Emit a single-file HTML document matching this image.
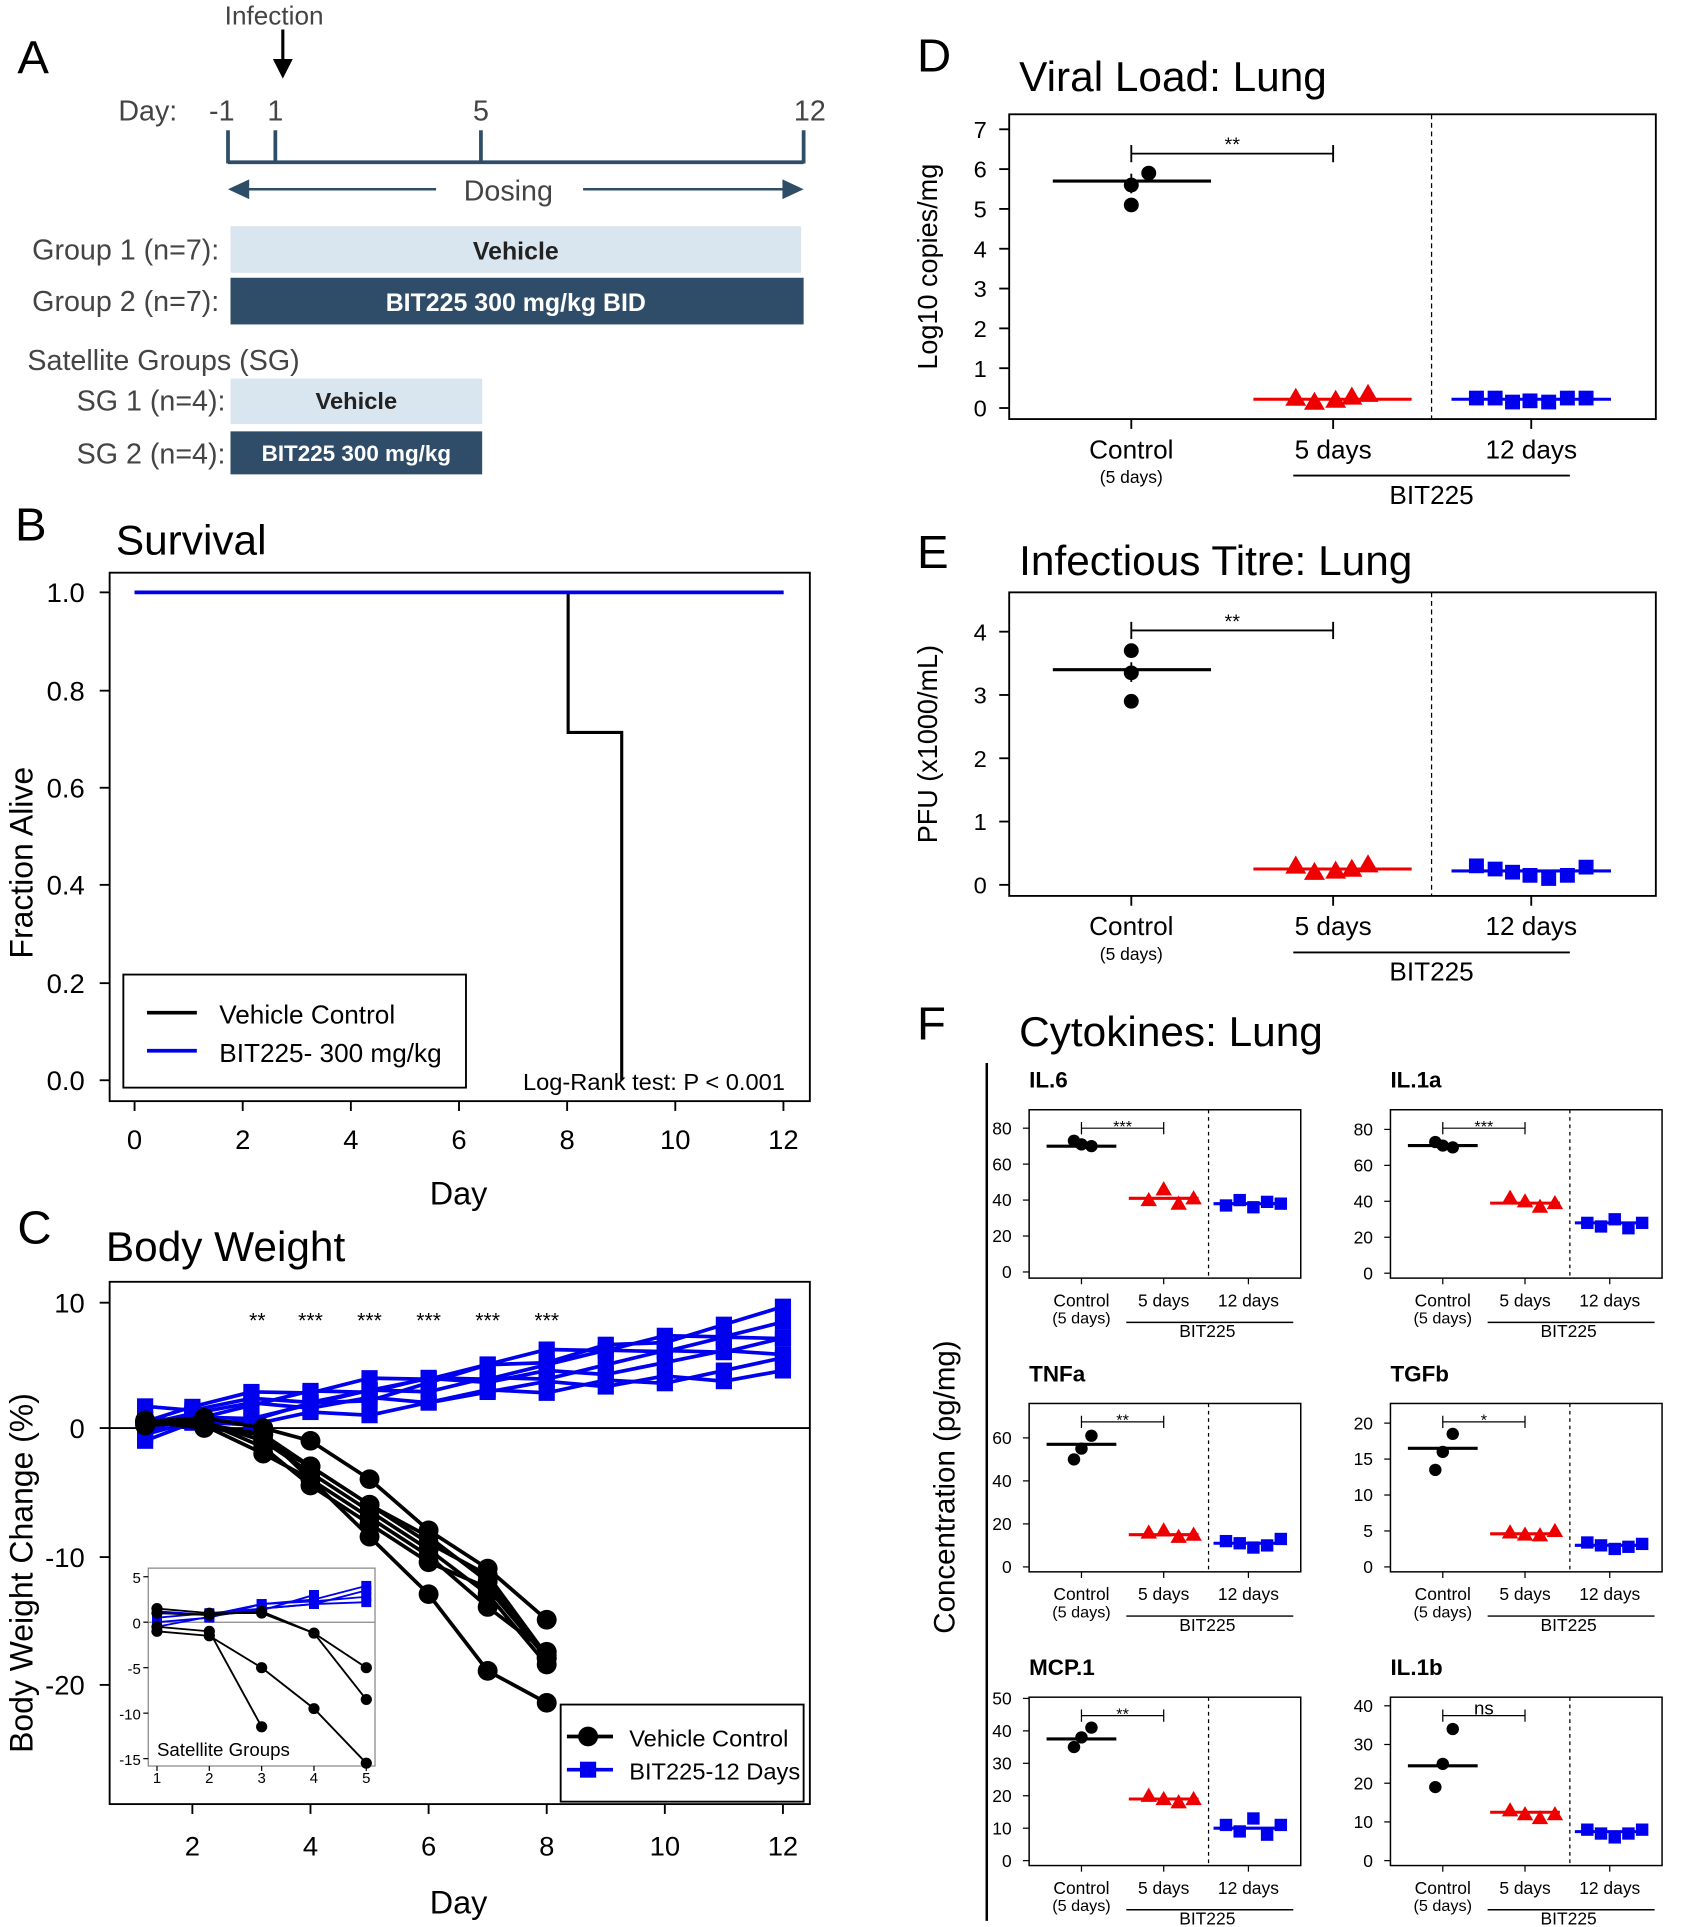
<!DOCTYPE html>
<html><head><meta charset="utf-8"><style>
html,body{margin:0;padding:0;background:#fff;}
svg{display:block;font-family:"Liberation Sans",Arial,sans-serif;}
</style></head><body>
<svg id="s" width="1682" height="1927" viewBox="0 0 1350 1568" preserveAspectRatio="none" xmlns="http://www.w3.org/2000/svg"></svg>
<script>
const S=document.getElementById('s');let h='';
function T(x,y,t,o={}){h+=`<text x="${x}" y="${y}" font-size="${o.s||20}" fill="${o.c||'#000'}" text-anchor="${o.a||'start'}" ${o.b?'font-weight="bold"':''} ${o.r?`transform="rotate(-90 ${x} ${y})"`:''}>${t}</text>`;}
function L(x1,y1,x2,y2,c='#000',w=1.5,d=''){h+=`<line x1="${x1}" y1="${y1}" x2="${x2}" y2="${y2}" stroke="${c}" stroke-width="${w}" ${d?`stroke-dasharray="${d}"`:''}/>`;}
function R(x,y,w,ht,f='none',st='#000',sw=1.5){h+=`<rect x="${x}" y="${y}" width="${w}" height="${ht}" fill="${f}" stroke="${st}" stroke-width="${sw}"/>`;}
function C(x,y,r,c='#000'){h+=`<circle cx="${x}" cy="${y}" r="${r}" fill="${c}"/>`;}
function Sq(x,y,s,c='#00e'){h+=`<rect x="${x-s/2}" y="${y-s/2}" width="${s}" height="${s}" fill="${c}"/>`;}
function Tr(x,y,s,c='#e00'){h+=`<polygon points="${x},${y-s*0.6} ${x-s*0.6},${y+s*0.45} ${x+s*0.6},${y+s*0.45}" fill="${c}"/>`;}
function P(pts,c,w){h+=`<polyline points="${pts.map(p=>p.join(',')).join(' ')}" fill="none" stroke="${c}" stroke-width="${w}"/>`;}
const dk='#2e4d66',gr='#444';
// Panel A
T(14,60,'A',{s:38});T(220,20,'Infection',{s:21,a:'middle',c:gr});
L(227,24,227,52,'#000',2.5);h+=`<polygon points="219,48 235,48 227,64" fill="#000"/>`;
T(95,98,'Day:',{s:23,c:gr});
[[178,'-1'],[221,'1'],[386,'5'],[650,'12']].forEach(a=>T(a[0],98,a[1],{s:23,a:'middle',c:gr}));
L(183,132,645,132,dk,3);[183,221,386,645].forEach(x=>L(x,106,x,133,dk,3));
L(195,154,350,154,dk,2);L(468,154,632,154,dk,2);
h+=`<polygon points="183,154 200,146 200,162" fill="${dk}"/><polygon points="645,154 628,146 628,162" fill="${dk}"/>`;
T(408,163,'Dosing',{s:23,a:'middle',c:gr});
T(176,211,'Group 1 (n=7):',{s:23,a:'end',c:gr});R(185,184,458,38,'#d9e6f0','none');T(414,211,'Vehicle',{s:20,a:'middle',b:1,c:'#222'});
T(176,253,'Group 2 (n=7):',{s:23,a:'end',c:gr});R(185,226,460,38,'#2f4d68','none');T(414,253,'BIT225 300 mg/kg BID',{s:20,a:'middle',b:1,c:'#fff'});
T(22,301,'Satellite  Groups (SG)',{s:23,c:gr});
T(181,334,'SG 1 (n=4):',{s:23,a:'end',c:gr});R(185,308,202,37,'#d9e6f0','none');T(286,333,'Vehicle',{s:19,a:'middle',b:1,c:'#222'});
T(181,377,'SG 2 (n=4):',{s:23,a:'end',c:gr});R(185,351,202,35,'#2f4d68','none');T(286,375,'BIT225 300 mg/kg',{s:18,a:'middle',b:1,c:'#fff'});
// Panel B
T(12,440,'B',{s:38});T(93,451,'Survival',{s:34});
R(88,466,562,430);
[[1.0,482],[0.8,562],[0.6,641],[0.4,720],[0.2,800],[0.0,879]].forEach(a=>{L(80,a[1],88,a[1]);T(68,a[1]+8,a[0].toFixed(1),{s:22,a:'end'});});
for(let d=0;d<=12;d+=2){const x=108+d*43.4;L(x,896,x,904);T(x,935,d,{s:22,a:'middle'});}
T(368,980,'Day',{s:26,a:'middle'});T(26,702,'Fraction Alive',{s:26,a:'middle',r:1});
P([[108,482],[456,482],[456,596],[499,596],[499,879]],'#000',2.5);
L(108,482,629,482,'#00e',3);
R(99,793,275,92);L(118,824,158,824,'#000',3);L(118,855,158,855,'#00e',3);
T(176,833,'Vehicle Control',{s:21});T(176,864,'BIT225- 300 mg/kg',{s:21});
T(630,887,'Log-Rank test: P &lt; 0.001',{s:19,a:'end'});
// Panel C
T(14,1012,'C',{s:38});T(85,1026,'Body Weight',{s:34});
R(88,1043,562,425);
[[10,1060],[0,1162],[-10,1267],[-20,1371]].forEach(a=>{L(80,a[1],88,a[1]);T(68,a[1]+8,a[0],{s:22,a:'end'});});
for(let d=2;d<=12;d+=2){const x=107+(d-1)*47.4;L(x,1468,x,1476);T(x,1510,d,{s:22,a:'middle'});}
T(368,1557,'Day',{s:26,a:'middle'});T(26,1280,'Body Weight Change (%)',{s:26,a:'middle',r:1});
L(88,1162,650,1162,'#000',1.5);
const cx=d=>107+(d-1)*47.4, cy=v=>1162-v*10.4;
[['**',3.1],['***',4],['***',5],['***',6],['***',7],['***',8]].forEach(a=>T(cx(a[1]),1080,a[0],{s:17,a:'middle'}));
const blk=[[0.5,0.8,0,-1,-4,-8,-11,-15],[0.5,0.3,-0.5,-3,-6,-8.5,-12,-18],[0.3,0.5,-1,-3.5,-6.5,-9.5,-13,-18.5],[0.5,0,-0.5,-4,-7,-10,-14,-17.5],[0.2,0.5,-1.5,-4.5,-7.5,-10.5,-12.5,-18],[0.4,0.2,-2,-4,-8.5,-13,-19,-21.5],[0.6,0.5,-1,-3,-6,-9,-11.5,-17.8]];
const fin=[9,8.3,7.5,6.8,6,5,4.5];
const days=[1,2,3,4,5,6,7,8,9,10,11,12];
const blu=fin.map((f,i)=>days.map(d=>{const s=[-1,1,0.5,0,1.2,-0.5,0.8][i];return s+(f-s)*(d-1)/11+((d*7+i*3)%5-2)*0.25;}));
blu.forEach(l=>P(l.map((v,j)=>[cx(days[j]+(j==0?0.2:0)),cy(v)]),'#00e',3));
blu.forEach(l=>l.forEach((v,j)=>Sq(cx(days[j]+(j==0?0.2:0)),cy(v),13)));
blk.forEach(l=>P(l.map((v,j)=>[cx(j+1+(j<3?0.2:0)),cy(v)]),'#000',3));
blk.forEach(l=>l.forEach((v,j)=>C(cx(j+1+(j<3?0.2:0)),cy(v),8)));
// inset
R(119,1276,182,161,'#fff','#888',1);
const ix=d=>126+(d-1)*42, iy=v=>1320-v*7.4;
[[5],[0],[-5],[-10],[-15]].forEach(a=>{L(115,iy(a[0]),119,iy(a[0]),'#000',1);T(113,iy(a[0])+5,a[0],{s:12,a:'end'});});
for(let d=1;d<=5;d++){L(ix(d),1437,ix(d),1441,'#000',1);T(ix(d),1451,d,{s:12,a:'middle'});}
L(119,1320,301,1320,'#888',1);
[[1.2,0.8,1.3,3],[1,0.8,2,2.5,4],[0.5,1,1.5,2,3.5],[0,0.5,2,2.3,2.8],[-0.5,0.6,1.5,2,2.2]].forEach(l=>{P(l.map((v,j)=>[ix(j+1),iy(v)]),'#00e',1.5);l.forEach((v,j)=>Sq(ix(j+1),iy(v),8));});
[[1.5,1,1,-1.2,-5],[1,0.8,1.2,-1.2,-8.5],[-1,-1.5,-5,-9.5,-15.5],[-0.5,-1,-11.5]].forEach(l=>{P(l.map((v,j)=>[ix(j+1),iy(v)]),'#000',1.5);l.forEach((v,j)=>C(ix(j+1),iy(v),4.5));});
T(126,1429,'Satellite Groups',{s:15});
R(450,1387,195,79);L(455,1413,492,1413,'#000',3);C(472,1413,8);L(455,1440,492,1440,'#00e',3);Sq(472,1440,13);
T(505,1421,'Vehicle Control',{s:19});T(505,1448,'BIT225-12 Days',{s:19});
// D & E
function big(top,bot,tick,y0,ppu,lab,vals,pts,bry){
  R(810,top,519,bot-top);L(1149,top,1149,bot,'#000',1,'4,3');
  tick.forEach(t=>{const y=y0-t*ppu;L(802,y,810,y);T(792,y+7,t,{s:19,a:'end'});});
  T(752,(top+bot)/2,lab,{s:22,a:'middle',r:1});
  [908,1070,1229].forEach(x=>L(x,bot,x,bot+8));
  T(908,bot+32,'Control',{s:21,a:'middle'});T(908,bot+52,'(5 days)',{s:14,a:'middle'});
  T(1070,bot+32,'5 days',{s:21,a:'middle'});T(1229,bot+32,'12 days',{s:21,a:'middle'});
  L(1038,bot+46,1260,bot+46);T(1149,bot+69,'BIT225',{s:21,a:'middle'});
  L(908,bry,1070,bry);L(908,bry-7,908,bry+7);L(1070,bry-7,1070,bry+7);T(989,bry-2,'**',{s:16,a:'middle'});
  const Y=v=>y0-v*ppu;
  L(908,Y(vals[0])-6,908,Y(vals[0])+10);L(845,Y(vals[0]),972,Y(vals[0]),'#000',2.5);
  pts[0].forEach(p=>C(p[0],Y(p[1]),6));
  L(1006,Y(vals[1]),1133,Y(vals[1]),'#e00',2.5);pts[1].forEach(p=>Tr(p[0],Y(p[1]),14));
  L(1165,Y(vals[2]),1293,Y(vals[2]),'#00e',2.5);pts[2].forEach(p=>Sq(p[0],Y(p[1]),12));
}
T(736,58,'D',{s:38});T(818,74,'Viral Load: Lung',{s:34});
big(93,341,[0,1,2,3,4,5,6,7],332,32.4,'Log10 copies/mg',[5.7,0.22,0.22],
 [[[908,5.1],[908,5.6],[922,5.9]],[[1040,0.25],[1055,0.15],[1072,0.2],[1085,0.28],[1098,0.35]],[[1185,0.25],[1200,0.25],[1214,0.15],[1228,0.18],[1243,0.15],[1258,0.25],[1273,0.25]]],125);
T(736,462,'E',{s:38});T(818,468,'Infectious Titre: Lung',{s:34});
big(482,729,[0,1,2,3,4],720,51.5,'PFU (x1000/mL)',[3.4,0.25,0.22],
 [[[908,3.7],[908,3.35],[908,2.9]],[[1040,0.3],[1055,0.2],[1072,0.22],[1085,0.25],[1098,0.32]],[[1185,0.3],[1200,0.25],[1214,0.2],[1228,0.15],[1243,0.1],[1258,0.15],[1273,0.28]]],513);
// F
T(736,846,'F',{s:38});T(818,851,'Cytokines: Lung',{s:34});
L(792,865,792,1563,'#000',2);T(766,1210,'Concentration (pg/mg)',{s:24,a:'middle',r:1});
function cyt(x0,top,bot,title,ticks,tmax,ymax,y0,vals,pts,sig){
  T(x0,top-18,title,{s:18,b:1});
  R(x0,top,218,bot-top,'none','#000',1.2);L(x0+144,top,x0+144,bot,'#000',1,'3,3');
  const Y=v=>y0-(y0-ymax)*v/tmax;
  ticks.forEach(t=>{L(x0-5,Y(t),x0,Y(t),'#000',1);T(x0-14,Y(t)+5,t,{s:14,a:'end'});});
  [42,108,176].forEach(d=>L(x0+d,bot,x0+d,bot+5,'#000',1));
  T(x0+42,bot+23,'Control',{s:14,a:'middle'});T(x0+42,bot+37,'(5 days)',{s:13,a:'middle'});
  T(x0+108,bot+23,'5 days',{s:14,a:'middle'});T(x0+176,bot+23,'12 days',{s:14,a:'middle'});
  L(x0+78,bot+36,x0+212,bot+36,'#000',1.2);T(x0+143,bot+48,'BIT225',{s:14,a:'middle'});
  const by=top+15;L(x0+42,by,x0+108,by,'#000',1);L(x0+42,by-5,x0+42,by+5,'#000',1);L(x0+108,by-5,x0+108,by+5,'#000',1);
  T(x0+75,by+(sig=='ns'?-1:3),sig,{s:sig=='ns'?15:13,a:'middle'});
  L(x0+14,Y(vals[0]),x0+70,Y(vals[0]),'#000',2.5);pts[0].forEach((v,i)=>C(x0+[42,36,50][i],Y(v),5));
  L(x0+80,Y(vals[1]),x0+136,Y(vals[1]),'#e00',2.5);pts[1].forEach((v,i)=>Tr(x0+96+i*12,Y(v),11));
  L(x0+148,Y(vals[2]),x0+204,Y(vals[2]),'#00e',2.5);pts[2].forEach((v,i)=>Sq(x0+158+i*11,Y(v),10));
}
cyt(826,903,1040,'IL.6',[0,20,40,60,80],80,918,1035,[70,41,38],[[71,73,70],[40,46,38,41],[37,40,36,39,38]],'***');
cyt(1116,903,1040,'IL.1a',[0,20,40,60,80],80,919,1036,[71,39,28],[[71,73,70],[42,40,37,39],[28,26,30,25,28]],'***');
cyt(826,1142,1279,'TNFa',[0,20,40,60],60,1170,1275,[57,15,11],[[55,50,61],[16,17,14,15],[12,11,9,10,13]],'**');
cyt(1116,1142,1279,'TGFb',[0,5,10,15,20],20,1158,1275,[16.5,4.6,3],[[16,13.5,18.5],[4.8,4.5,4.4,5],[3.4,3,2.5,2.8,3.2]],'*');
cyt(826,1381,1518,'MCP.1',[0,10,20,30,40,50],50,1382,1514,[37.5,19,10],[[38,35,41],[20,19,18,19],[11,9,13,8,11]],'**');
cyt(1116,1381,1518,'IL.1b',[0,10,20,30,40],40,1388,1514,[24.5,12.5,7.5],[[25,19,34],[13,12,11,12],[8,7,6,7,8]],'ns');
S.innerHTML=h;
</script>
</body></html>
